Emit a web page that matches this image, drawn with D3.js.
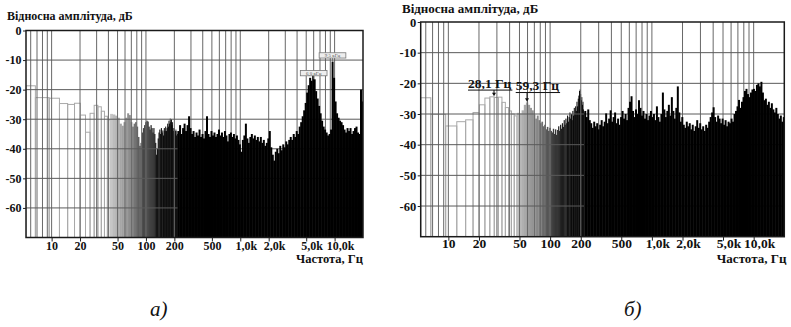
<!DOCTYPE html>
<html>
<head>
<meta charset="utf-8">
<script src="https://cdn.jsdelivr.net/npm/d3@7"></script>
<style>
  body { margin: 0; background: #fff; }
  svg text { font-family: "Liberation Serif", "Times New Roman", serif; }
</style>
</head>
<body>
<div id="place"></div>
<script>
// FFT bin width, Hz; the low-frequency levels start at bin 2
const binHz = 2.69;
const firstBin = 2;

// panel a) levels of bins 2..80, dB
const lowA = [
  -18.7, -22.7, -22.9, -24.7, -25.0, -24.6, -28.6, -34.4, -28.0,
  -25.3, -25.8, -27.3, -29.0, -30.2, -28.2, -28.4, -28.8, -29.5, -31.5,
  -32.2, -31.0, -29.5, -28.0, -28.6, -31.0, -32.5, -31.5, -31.0, -32.5,
  -36.0, -39.0, -38.0, -34.5, -33.0, -32.0, -31.0, -30.5, -30.8, -32.5,
  -33.5, -32.0, -33.0, -34.5, -33.0, -35.0, -38.0, -42.0, -40.0, -36.5,
  -34.5, -33.5, -35.0, -33.0, -34.5, -33.8, -35.5, -33.0, -34.0, -32.5,
  -34.0, -33.0, -31.5, -32.5, -30.5, -31.5, -29.8, -31.0, -30.0, -32.0,
  -31.0, -33.0, -34.0, -33.0, -35.0, -34.0, -33.5, -35.5, -34.0, -35.0
];
// panel a) peak levels in log-spaced bands from the last bin up to 20 kHz, dB
const denseA = [
  -34, -32, -35, -33, -31.5, -34, -32, -29, -33, -35,
  -34, -36, -34.5, -35.5, -33.5, -36, -35, -36.5, -34, -29,
  -35, -36, -34, -35.5, -34.5, -36, -35, -33.5, -35.5, -34.5,
  -36, -34, -35.5, -37.5, -35, -34.5, -36, -35, -36.5, -35.5,
  -37, -38.5, -41, -37, -35.5, -31.5, -36.5, -38, -36, -35,
  -36.5, -35.5, -37, -36, -37.5, -36, -38, -37, -39, -38,
  -36.5, -34, -39.5, -42, -44, -41, -40, -41.5, -39, -40.5,
  -38.5, -39.5, -37.5, -38.5, -37, -36, -37, -35, -36, -34,
  -35, -32.5, -31, -29, -27, -24.5, -21, -18.5, -16, -17,
  -15, -16.5, -20.5, -23, -25.5, -28, -30.5, -32.5, -33.5, -34.5,
  -35.5, -35, -33.5, -10.5, -16, -24, -28, -29.5, -30.5, -31,
  -32, -33.5, -34.5, -33, -34, -33, -35, -34, -33, -32.5,
  -34.5, -35, -20, -24
];

// panel б) levels of bins 2..80, dB
const lowB = [
  -24.7, -30.1, -33.9, -32.5, -31.9, -29.5, -27.0, -24.8, -24.4,
  -24.6, -24.5, -26.2, -27.9, -29.0, -30.0, -30.6, -29.6, -29.8, -28.8,
  -27.0, -26.2, -27.0, -28.0, -28.8, -30.2, -31.5, -30.5, -32.0, -33.0,
  -32.5, -34.0, -33.5, -35.0, -34.2, -35.5, -34.5, -35.5, -36.0, -34.8,
  -36.5, -35.0, -36.8, -35.2, -34.0, -35.5, -33.5, -34.8, -33.0, -34.2,
  -32.0, -33.5, -31.5, -33.0, -30.5, -32.5, -31.0, -29.5, -31.5, -30.0,
  -32.0, -29.0, -30.5, -28.0, -30.0, -27.5, -29.0, -26.0, -27.5, -25.0,
  -24.0, -22.5, -22.0, -23.5, -25.5, -24.5, -27.0, -26.0, -28.5, -29.5
];
const denseB = [
  -29, -31, -28.5, -32, -33, -34.5, -32.5, -34, -33, -35,
  -33.5, -32, -34, -32.5, -29.8, -33, -31.5, -28.8, -32.5, -31,
  -29.5, -33, -31.5, -33.5, -31, -29, -31.5, -30, -32, -28,
  -26, -24.2, -29, -31, -28.5, -30, -25.5, -28, -30.5, -29,
  -31.5, -30, -32, -30.5, -29, -31, -30, -32, -27.5, -31,
  -32.5, -30, -23, -28.5, -31, -29, -27, -30.5, -24.5, -29,
  -31.5, -28, -21, -29.5, -32.5, -31, -33.5, -34.5, -32.5, -34,
  -33, -35, -33.5, -35.5, -34, -32, -34.5, -33, -35, -34,
  -35.5, -33.5, -34.5, -32.5, -31, -29.5, -27.8, -31, -32.5, -30.5,
  -31.5, -33, -31.5, -33.5, -32, -34, -32.5, -33, -31.5, -32.5,
  -30, -29, -27.5, -25.4, -28, -26, -24.5, -22.5, -21.8, -23.5,
  -24.5, -23, -22, -21.8, -22.5, -20.5, -20, -21, -19.5, -23,
  -25.5, -25, -27, -26, -28, -26.5, -28.5, -29.5, -28, -30,
  -31.5, -30.5, -32.5, -31
];

const freqTicks = [10, 20, 50, 100, 200, 500, 1000, 2000, 5000, 10000];
const freqLabels = ["10", "20", "50", "100", "200", "500", "1,0k", "2,0k", "5,0k", "10,0k"];
const dbTicks = [0, -10, -20, -30, -40, -50, -60];

// marked peaks: frequency, Hz and level, dB
const peaksA = [
  { f: 6000, db: -16.5, text: "6,0 кГц" },
  { f: 9500, db: -10.5, text: "9,5 кГц" }
];
const peaksB = [
  { f: 28.1, db: -24.4, labelDb: -22.2, text: "28,1 Гц" },
  { f: 59.3, db: -26.2, labelDb: -23.0, text: "59,3 Гц" }
];

const fMin = 5.35, fMax = 20000, dbMin = -70;

let svg = d3.select("#place").append("svg")
  .attr("width", 791)
  .attr("height", 327);

const panels = [
  { id: "a", left: 26, right: 363, top: 30.5, bottom: 237.5,
    tickFont: 12, yFont: 12, titleFont: 12, unitFont: 12.5,
    titleX: 7, titleY: 20, labY: 12, unitX: 363, unitY: 262.5,
    cap: "а)", capX: 150, low: lowA, dense: denseA },
  { id: "b", left: 420.7, right: 784.3, top: 22, bottom: 236.7,
    tickFont: 13.5, yFont: 12.5, titleFont: 13, unitFont: 13,
    titleX: 402, titleY: 12.5, labY: 11.5, unitX: 786.5, unitY: 263,
    cap: "б)", capX: 624, low: lowB, dense: denseB }
];

// grey of a bar depends on how many bins share a pixel
const shade = d3.scaleLinear()
  .domain([0.7, 1.1, 1.6, 2.6])
  .range(["#000", "#3c3c3c", "#8a8a8a", "#c8c8c8"])
  .clamp(true);

// log grid: 1..9 in every decade
const gridFreqs = [];
for (let d = 1; d <= 10000; d *= 10)
  for (let m = 1; m <= 9; m++) {
    const f = m * d;
    if (f > fMin && f < fMax) gridFreqs.push(f);
  }

function drawPanel(p) {
  const x = d3.scaleLog().domain([fMin, fMax]).range([p.left, p.right]);
  const y = d3.scaleLinear().domain([dbMin, 0]).range([p.bottom, p.top]);
  const g = svg.append("g");

  g.append("clipPath").attr("id", "clip-" + p.id)
    .append("rect")
    .attr("x", p.left).attr("y", p.top)
    .attr("width", p.right - p.left).attr("height", p.bottom - p.top);

  // single FFT bins
  const bins = p.low.map((db, i) => {
    const k = i + firstBin;
    return { f0: Math.max((k - 0.5) * binHz, fMin), f1: (k + 0.5) * binHz, db: db };
  });
  const w = d => x(d.f1) - x(d.f0);

  g.append("g").attr("clip-path", "url(#clip-" + p.id + ")")
    .selectAll("rect")
    .data(bins)
    .join("rect")
      .attr("x", d => x(d.f0))
      .attr("width", d => w(d) + (w(d) < 2.6 ? 0.3 : 0))
      .attr("y", d => y(d.db))
      .attr("height", d => y(dbMin) - y(d.db))
      .attr("fill", d => w(d) >= 2.6 ? "none" : shade(w(d)))
      .attr("stroke", d => w(d) >= 2.6 ? "#a9a9a9" : "none")
      .attr("stroke-width", 1);

  // grid
  g.append("g").selectAll("line")
    .data(gridFreqs)
    .join("line")
      .attr("x1", d => x(d)).attr("x2", d => x(d))
      .attr("y1", p.top).attr("y2", p.bottom)
      .attr("stroke", "#686868").attr("stroke-width", 1);
  g.append("g").selectAll("line")
    .data(dbTicks.slice(1))
    .join("line")
      .attr("x1", p.left).attr("x2", p.right)
      .attr("y1", d => y(d)).attr("y2", d => y(d))
      .attr("stroke", "#5a5a5a").attr("stroke-width", 1);

  // dense part: log-spaced bands
  const fStart = (p.low.length + firstBin - 0.5) * binHz;
  const n = p.dense.length;
  const bands = p.dense.map((db, i) => ({
    f0: fStart * Math.pow(fMax / fStart, i / n),
    f1: fStart * Math.pow(fMax / fStart, (i + 1) / n),
    db: db
  }));
  g.append("g").attr("clip-path", "url(#clip-" + p.id + ")")
    .selectAll("rect")
    .data(bands)
    .join("rect")
      .attr("x", d => x(d.f0))
      .attr("width", d => x(d.f1) - x(d.f0) + 0.5)
      .attr("y", d => y(d.db))
      .attr("height", d => y(dbMin) - y(d.db))
      .attr("fill", "#000");

  // frame
  g.append("rect")
    .attr("x", p.left).attr("y", p.top)
    .attr("width", p.right - p.left).attr("height", p.bottom - p.top)
    .attr("fill", "none").attr("stroke", "#1a1a1a").attr("stroke-width", 1.5);

  // axes
  const xa = g.append("g")
    .attr("transform", "translate(0," + p.bottom + ")")
    .call(d3.axisBottom(x)
      .tickValues(freqTicks)
      .tickFormat(d => freqLabels[freqTicks.indexOf(d)])
      .tickSize(4));
  xa.attr("font-family", null).attr("font-size", p.tickFont).attr("font-weight", "bold");
  xa.select(".domain").remove();
  xa.selectAll("line").attr("stroke", "#222");
  xa.selectAll("text")
    .attr("y", p.labY).attr("dy", 0)
    .attr("dx", d => freqLabels[freqTicks.indexOf(d)].indexOf("k") >= 0 ? 5.5 : 0)
    .attr("fill", "#111");

  const ya = g.append("g")
    .attr("transform", "translate(" + p.left + ",0)")
    .call(d3.axisLeft(y).tickValues(dbTicks).tickSize(3).tickPadding(1.5));
  ya.attr("font-family", null).attr("font-size", p.yFont).attr("font-weight", "bold");
  ya.select(".domain").remove();
  ya.selectAll("line").attr("stroke", "#222");
  ya.selectAll("text").attr("fill", "#111").text(d => d === 0 ? "0" : "-" + Math.abs(d));

  // titles
  g.append("text")
    .attr("x", p.titleX).attr("y", p.titleY)
    .attr("font-size", p.titleFont).attr("font-weight", "bold").attr("fill", "#111")
    .text("Відносна амплітуда, дБ");
  g.append("text")
    .attr("x", p.unitX).attr("y", p.unitY)
    .attr("text-anchor", "end")
    .attr("font-size", p.unitFont).attr("font-weight", "bold").attr("fill", "#111")
    .text("Частота, Гц");
  svg.append("text")
    .attr("x", p.capX).attr("y", 316)
    .attr("font-size", 21).attr("font-style", "italic").attr("fill", "#111")
    .text(p.cap);

  return { x: x, y: y, g: g };
}

const pa = drawPanel(panels[0]);
const pb = drawPanel(panels[1]);

// small boxed markers on panel a)
peaksA.forEach(d => {
  const cx = pa.x(d.f), bottom = pa.y(d.db) - 3.5;
  const bw = 26.7, bh = 5.3;
  pa.g.append("line")
    .attr("x1", cx).attr("x2", cx).attr("y1", bottom).attr("y2", pa.y(d.db))
    .attr("stroke", "#666").attr("stroke-width", 0.8);
  pa.g.append("rect")
    .attr("x", cx - bw / 2).attr("y", bottom - bh)
    .attr("width", bw).attr("height", bh)
    .attr("fill", "#eee").attr("stroke", "#777").attr("stroke-width", 0.8);
  pa.g.append("text")
    .attr("x", cx).attr("y", bottom - 1.2)
    .attr("text-anchor", "middle")
    .attr("font-size", 5).attr("fill", "#555")
    .text(d.text);
});

// underlined labels with arrows on panel б)
const labelShift = [26, 11.3];
peaksB.forEach((d, i) => {
  const ax = pb.x(d.f), uy = pb.y(d.labelDb), tip = pb.y(d.db) - 0.5;
  const t = pb.g.append("text")
    .attr("x", ax - labelShift[i]).attr("y", uy - 2.4)
    .attr("font-size", 13.5).attr("font-weight", "bold").attr("fill", "#111")
    .text(d.text);
  const tw = t.node().getComputedTextLength();
  pb.g.append("line")
    .attr("x1", ax - labelShift[i]).attr("x2", ax - labelShift[i] + tw + 1)
    .attr("y1", uy).attr("y2", uy)
    .attr("stroke", "#111").attr("stroke-width", 1);
  pb.g.append("line")
    .attr("x1", ax).attr("x2", ax).attr("y1", uy).attr("y2", tip - 3)
    .attr("stroke", "#111").attr("stroke-width", 1);
  pb.g.append("path")
    .attr("d", "M" + (ax - 2) + "," + (tip - 3.5) + "L" + (ax + 2) + "," + (tip - 3.5) + "L" + ax + "," + tip + "Z")
    .attr("fill", "#111");
});
</script>
</body>
</html>
